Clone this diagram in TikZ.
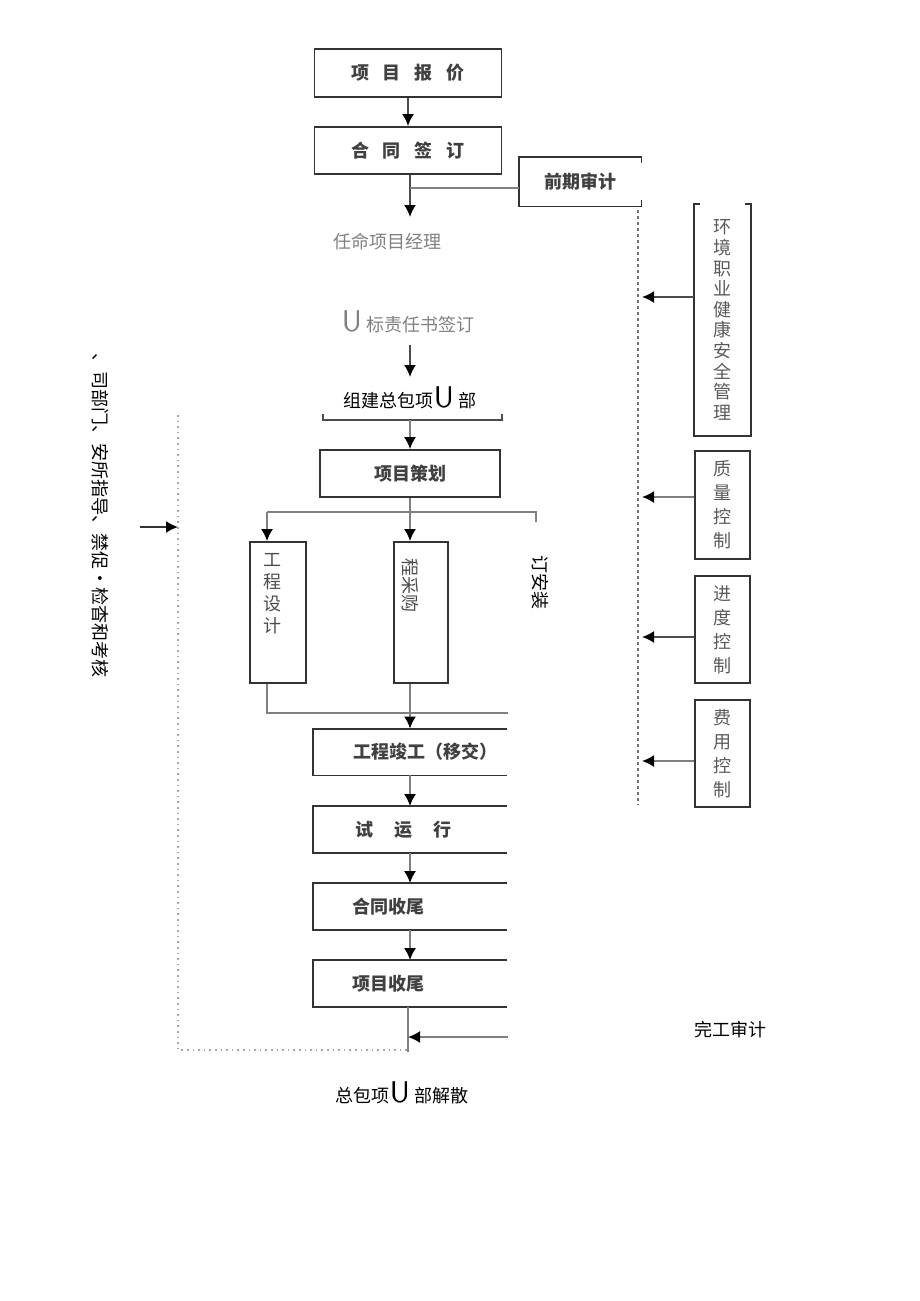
\documentclass[tikz,border=0pt]{standalone}
\usepackage{fontspec}
\setmainfont{Noto Sans CJK SC}
\usetikzlibrary{arrows,arrows.meta,positioning}
\newcommand{\ubig}{{\sffamily\fontsize{15}{15}\selectfont U}}

\begin{document}
\begin{tikzpicture}[x=0.5pt,y=-0.5pt,
	box/.style={draw=black!80,line width=0.9pt,inner sep=0pt,font=\bfseries\fontsize{9}{11}\selectfont,text=black!75},
	obox/.style={inner sep=0pt,minimum width=97pt,minimum height=23pt},
	oline/.style={draw=black!80,line width=0.9pt},
	btxt/.style={inner sep=0pt,font=\bfseries\fontsize{9}{11}\selectfont,text=black!75},
	vbox/.style={draw=black!80,line width=0.9pt,inner sep=0pt,minimum width=27.5pt,align=center,text=black!65,font=\fontsize{9}{12}\selectfont},
	vtxt/.style={inner sep=0pt,align=center,text=black!70,font=\fontsize{9}{11}\selectfont},
	gtxt/.style={inner sep=0pt,text=black!50,font=\fontsize{9}{11}\selectfont},
	ttxt/.style={inner sep=0pt,text=black,font=\fontsize{9}{11}\selectfont},
	link/.style={draw=black!50,line width=0.9pt},
	arr/.style={link,-{Latex[length=6pt,width=6pt,black]}},
	rframe/.style={draw=black!55,line width=0.8pt,dash pattern=on 1.5pt off 1.5pt},
	lframe/.style={draw=black!35,line width=0.8pt,dotted}]
	\useasboundingbox (0,0) rectangle (920,1301);

	\node[box,minimum width=93.5pt,minimum height=24pt] (quote) at (408,73) {项\hspace{7pt}目\hspace{7pt}报\hspace{7pt}价};
	\node[box,minimum width=93.5pt,minimum height=23.5pt] (sign) at (408,150.5) {合\hspace{7pt}同\hspace{7pt}签\hspace{7pt}订};
	\node[btxt,minimum width=61pt,minimum height=24.5pt] (audit) at (580,181.5) {前期审计};
	\draw[oline] ([yshift=-3pt]audit.north east) -- (audit.north east) -- (audit.north west) -- (audit.south west) -- (audit.south east) -- ([yshift=3pt]audit.south east);

	\node[gtxt] (appoint) at (387,242) {任命项目经理};
	\node[gtxt] (resp) at (408,322) {\ubig\ 标责任书签订};
	\node[ttxt] (team) at (410,398) {组建总包项\ubig\ 部};
	\node[box,minimum width=90pt,minimum height=23.5pt] (plan) at (410,473.5) {项目策划};

	\node[box,minimum width=28pt,minimum height=70.5pt] (design) at (278,612.5) {};
	\node[vtxt,anchor=north] (designt) at (272,553) {工\\程\\设\\计};
	\node[box,minimum width=27pt,minimum height=70.5pt] (buy) at (421,612.5) {};
	\node[vtxt,rotate=-90] (buyt) at (410,585) {程采购};
	\node[vtxt,rotate=-90,text=black] (install) at (540,582) {订安装};

	\node[obox] (done) at (410,752) {};
	\node[obox] (trial) at (410,829.5) {};
	\node[obox] (close) at (410,906.5) {};
	\node[obox] (pend) at (410,983.5) {};
	\foreach \b in {done,trial,close,pend}
		\draw[oline] (\b.north east) -- (\b.north west) -- (\b.south west) -- (\b.south east);
	\node[btxt,anchor=west] (donet) at (353,752) {工程竣工（移交）};
	\node[btxt,anchor=west] (trialt) at (355,829.5) {试\hspace{10.5pt}运\hspace{10.5pt}行};
	\node[btxt,anchor=west] (closet) at (352,906.5) {合同收尾};
	\node[btxt,anchor=west] (pendt) at (352,983.5) {项目收尾};
	\node[ttxt] (finish) at (730,1030) {完工审计};
	\node[ttxt] (disband) at (402,1093) {总包项\ubig\ 部解散};

	\node[vbox,draw=none,minimum height=115pt] (hse) at (722.5,320) {};
	\node[vtxt,text=black!65,font=\fontsize{9}{10.3}\selectfont] (hset) at (hse) {环\\境\\职\\业\\健\\康\\安\\全\\管\\理};
	\draw[oline] ([xshift=3pt]hse.north west) -- (hse.north west) -- (hse.south west) -- (hse.south east) -- (hse.north east) -- ([xshift=-3pt]hse.north east);
	\node[vbox,minimum height=54pt] (qual) at (722.5,505) {质\\量\\控\\制};
	\node[vbox,minimum height=53.5pt] (sched) at (722.5,629.5) {进\\度\\控\\制};
	\node[vbox,minimum height=53.5pt] (cost) at (722.5,753.5) {费\\用\\控\\制};

	\node[vtxt,rotate=-90,text=black] (dept) at (100,515) {、司部门、安所指导、禁促•检杳和考核};

	\coordinate (rt) at (638,210);
	\coordinate (rb) at (638,805);
	\coordinate (lt) at (178,415);
	\coordinate (lb) at (178,1050);
	\coordinate (le) at (408,1050);
	\coordinate (la) at (140,527);
	\coordinate (a1) at (410,217);
	\coordinate (j1) at (410,188);
	\coordinate (r1) at (410,345);
	\coordinate (r2) at (410,377);
	\coordinate (bl) at (323,414);
	\coordinate (br) at (502,414);
	\coordinate (bm) at (410,420);
	\coordinate (s1) at (410,512);
	\coordinate (s0) at (267,512);
	\coordinate (s2) at (536,512);
	\coordinate (m0) at (267,713);
	\coordinate (m2) at (508,713);
	\coordinate (tail) at (408,1052);
	\coordinate (fin) at (508,1037);

	\draw[rframe] (rt) -- (rb);
	\draw[lframe] (lt) -- (lb) -- (le);
	\draw[arr,draw=black!80] (la) -- (la -| lt);

	\draw[arr,draw=black!70] (quote) -- (sign);
	\draw[arr,draw=black!70] (sign.south -| a1) -- (a1);
	\draw[link] (j1) -- (j1 -| audit.west);
	\draw[arr,draw=black!70] (r1) -- (r2);
	\draw[link,draw=black!70] (bl) -- ++(0,6) -| (br);
	\draw[arr] (bm) -- (bm |- plan.north);
	\draw[link] (plan.south -| s1) -- (s1);
	\draw[link] (s0) -- (s2) -- ++(0,10);
	\draw[arr] (s0) -- (s0 |- design.north);
	\draw[arr] (s1) -- (s1 |- buy.north);
	\draw[link] (m0 |- design.south) -- (m0) -- (m2);
	\draw[arr] (s1 |- buy.south) -- (done.north);
	\draw[arr] (done) -- (trial);
	\draw[arr] (trial) -- (close);
	\draw[arr] (close) -- (pend);
	\draw[link] (tail |- pend.south) -- (tail);
	\draw[arr] (fin) -- (fin -| tail);

	\draw[arr,draw=black!70] (hse.west |- 0,297) -- ([xshift=2pt]rt |- 0,297);
	\draw[arr] (qual.west |- 0,497) -- ([xshift=2pt]rt |- 0,497);
	\draw[arr,draw=black!70] (sched.west |- 0,637) -- ([xshift=2pt]rt |- 0,637);
	\draw[arr] (cost.west |- 0,761) -- ([xshift=2pt]rt |- 0,761);
\end{tikzpicture}
\end{document}
